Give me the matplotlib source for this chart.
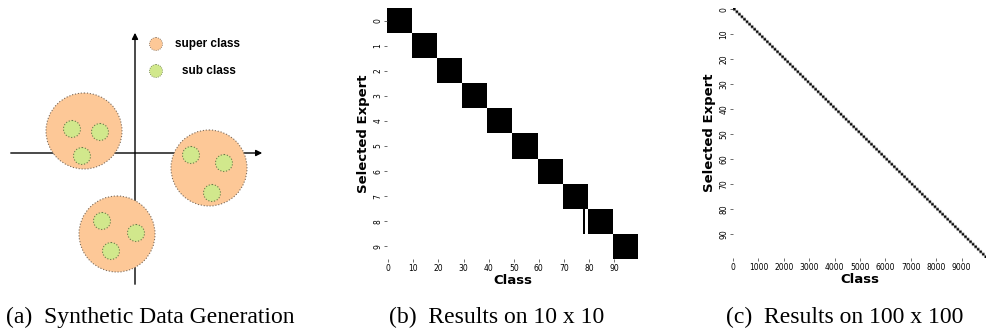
import numpy as np
import matplotlib
matplotlib.use('Agg')
import matplotlib.pyplot as plt
from matplotlib.patches import Circle

# Panel (a): synthetic data sketch (pixel-like coordinates)
super_centers = [(84, 131), (209, 168), (117, 234)]
sub_centers = [[(72, 129), (100, 132), (82, 156)],
               [(191, 155), (224, 163), (212, 193)],
               [(102, 221), (136, 233), (111, 251)]]
legend_labels = ['super class', 'sub class']

# Panel (b): 10 experts x 100 classes, class ranges owned by each expert
experts_b = list(range(10))
block_start_b = [0, 10, 20, 30, 40, 50, 60, 70, 80, 90]
block_end_b = [10, 20, 30, 40, 50, 60, 70, 80, 90, 100]
extra_cells_b = [(8, 78)]  # (expert, class) stray assignment

# Panel (c): 100 experts x 10000 classes
n_experts_c = 100
classes_per_expert_c = [100] * n_experts_c

captions = ['(a)  Synthetic Data Generation', '(b)  Results on 10 x 10', '(c)  Results on 100 x 100']

super_col = '#fdc897'
sub_col = '#d1e88c'
edge_col = '#7a6a5a'

fig = plt.figure(figsize=(9.87, 3.29), dpi=100)
H = 329.0
W = 987.0

# ---- (a)
ax1 = fig.add_axes([0, 0, 330 / W, 1])
ax1.set_xlim(0, 330)
ax1.set_ylim(329, 0)
ax1.axis('off')
ax1.annotate('', xy=(265, 153), xytext=(8, 153),
             arrowprops=dict(arrowstyle='-|>', color='black', lw=1, mutation_scale=9))
ax1.annotate('', xy=(135, 30), xytext=(135, 287),
             arrowprops=dict(arrowstyle='-|>', color='black', lw=1, mutation_scale=9))
for c, subs in zip(super_centers, sub_centers):
    ax1.add_patch(Circle(c, 38, fc=super_col, ec=edge_col, lw=0.8, ls=':', zorder=3))
    for s in subs:
        ax1.add_patch(Circle(s, 8.5, fc=sub_col, ec='#6a7a4a', lw=0.8, ls=':', zorder=4))
ax1.add_patch(Circle((156, 44), 6.5, fc=super_col, ec=edge_col, lw=0.6, ls=':', zorder=3))
ax1.add_patch(Circle((156, 71), 6.5, fc=sub_col, ec='#6a7a4a', lw=0.6, ls=':', zorder=3))
ax1.text(175, 44, legend_labels[0], fontsize=8.5, fontweight='bold',
         family='Liberation Sans', va='center', ha='left')
ax1.text(182, 71, legend_labels[1], fontsize=8.5, fontweight='bold',
         family='Liberation Sans', va='center', ha='left')

# ---- (b)
mat_b = np.zeros((10, 100))
for e, s0, s1 in zip(experts_b, block_start_b, block_end_b):
    mat_b[e, s0:s1] = 1
for e, c in extra_cells_b:
    mat_b[e, c] = 1

ax2 = fig.add_axes([387 / W, (H - 259) / H, 251 / W, 251 / H])
ax2.imshow(mat_b, cmap='Greys', vmin=0, vmax=1, aspect='auto',
           extent=(0, 100, 10, 0), interpolation='nearest')
ax2.set_xticks(np.arange(0, 100, 10) + 0.5)
ax2.set_xticklabels([str(v) for v in range(0, 100, 10)])
ax2.set_yticks(np.arange(10) + 0.5)
ax2.set_yticklabels([str(v) for v in range(10)], rotation=90, va='center')

# ---- (c)
expert_of_class = np.repeat(np.arange(n_experts_c), classes_per_expert_c)
mat_c = np.zeros((n_experts_c, len(expert_of_class)))
mat_c[expert_of_class, np.arange(len(expert_of_class))] = 1

ax3 = fig.add_axes([733 / W, (H - 258) / H, 254 / W, 250 / H])
ax3.imshow(mat_c, cmap='Greys', vmin=0, vmax=1, aspect='auto',
           extent=(0, mat_c.shape[1], n_experts_c, 0), interpolation='antialiased')
ax3.set_xticks(np.arange(0, 10000, 1000) + 0.5)
ax3.set_xticklabels([str(v) for v in range(0, 10000, 1000)])
ax3.set_yticks(np.arange(0, 100, 10) + 0.5)
ax3.set_yticklabels([str(v) for v in range(0, 100, 10)], rotation=90, va='center')

for ax in (ax2, ax3):
    for sp in ax.spines.values():
        sp.set_visible(False)
    ax.tick_params(labelsize=5.5, length=2, width=0.6, color='#555555', pad=1.5)
    ax.set_xlabel('Class', fontsize=9.5, fontweight='bold', labelpad=1)
    ax.set_ylabel('Selected Expert', fontsize=9.5, fontweight='bold', labelpad=2)

# captions
for x, t in zip([150, 497, 845], captions):
    fig.text(x / W, 1 - 317 / H, t, fontsize=17, family='Liberation Serif',
             ha='center', va='center')

fig.savefig('out.png', dpi=100)
